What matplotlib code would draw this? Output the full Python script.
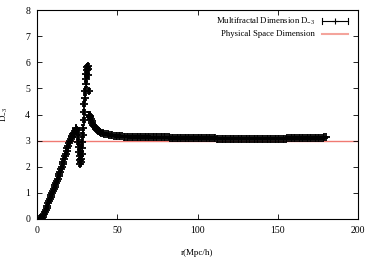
import matplotlib
matplotlib.use("Agg")
import matplotlib.pyplot as plt

plt.rcParams['font.family'] = ['Liberation Serif', 'DejaVu Serif']
plt.rcParams['mathtext.fontset'] = 'custom'
plt.rcParams['mathtext.rm'] = 'Liberation Serif'
plt.rcParams['mathtext.it'] = 'Liberation Serif'
plt.rcParams['mathtext.default'] = 'regular'

# ---- data ----
r_rise = [1.5, 2.0, 2.5, 3.0, 3.5, 4.0, 4.5, 5.0, 5.5, 6.0, 6.5, 7.0, 7.5, 8.0, 8.5,
          9.0, 9.5, 10.0, 10.5, 11.0, 11.5, 12.0, 12.5, 13.0, 13.5, 14.0, 14.5, 15.0,
          15.5, 16.0, 16.5, 17.0, 17.5, 18.0, 18.5, 19.0, 19.5, 20.0, 20.5, 21.0, 21.5,
          22.0, 22.5, 23.0, 23.5, 24.0, 24.5]
d_rise = [0.0, 0.0, 0.02, 0.05, 0.09, 0.14, 0.2, 0.27, 0.35, 0.43, 0.51, 0.6, 0.68, 0.77, 0.85,
          0.93, 1.0, 1.08, 1.15, 1.22, 1.3, 1.38, 1.46, 1.55, 1.63, 1.72, 1.81, 1.9,
          2.0, 2.1, 2.2, 2.3, 2.4, 2.5, 2.6, 2.7, 2.8, 2.9, 2.98, 3.06, 3.12,
          3.18, 3.24, 3.3, 3.37, 3.43, 3.47]

r_peak = [25.0, 25.25, 25.5, 25.75, 26.0, 26.25, 26.5, 26.75, 27.0, 27.25, 27.5, 27.75,
          28.0, 28.25, 28.5, 28.75, 29.0, 29.25, 29.5, 29.75, 30.0, 30.25, 30.5, 30.75,
          31.0, 31.25, 31.5, 31.75, 32.0, 32.25, 32.5, 32.75, 33.0]
d_peak = [3.4, 3.3, 3.15, 2.95, 2.75, 2.55, 2.4, 2.25, 2.12, 2.18, 2.3, 2.5,
          2.7, 2.95, 3.2, 3.5, 3.8, 4.1, 4.4, 4.65, 4.9, 5.15, 5.35, 5.55,
          5.7, 5.8, 5.87, 5.75, 5.5, 4.9, 4.0, 3.95, 3.9]

r_tail = [33.5, 34.0, 34.5, 35.0, 35.5, 36.0, 36.5, 37.0, 37.5, 38.0, 38.5, 39.0, 39.5, 40.0,
          41, 42, 43, 44, 45, 46, 47, 48, 49, 50,
          51, 52, 53, 54, 55, 56, 57, 58, 59, 60,
          61, 62, 63, 64, 65, 66, 67, 68, 69, 70,
          71, 72, 73, 74, 75, 76, 77, 78, 79, 80,
          81, 82, 83, 84, 85, 86, 87, 88, 89, 90,
          91, 92, 93, 94, 95, 96, 97, 98, 99, 100,
          101, 102, 103, 104, 105, 106, 107, 108, 109, 110,
          111, 112, 113, 114, 115, 116, 117, 118, 119, 120,
          121, 122, 123, 124, 125, 126, 127, 128, 129, 130,
          131, 132, 133, 134, 135, 136, 137, 138, 139, 140,
          141, 142, 143, 144, 145, 146, 147, 148, 149, 150,
          151, 152, 153, 154, 155, 156, 157, 158, 159, 160,
          161, 162, 163, 164, 165, 166, 167, 168, 169, 170,
          171, 172, 173, 174, 175, 176, 177, 178, 179, 180]
d_tail = [3.82, 3.74, 3.67, 3.61, 3.56, 3.52, 3.48, 3.44, 3.41, 3.38, 3.36, 3.34, 3.32, 3.3,
          3.28, 3.26, 3.25, 3.24, 3.22, 3.21, 3.2, 3.19, 3.18, 3.17,
          3.17, 3.16, 3.16, 3.15, 3.15, 3.15, 3.15, 3.14, 3.14, 3.14,
          3.14, 3.14, 3.13, 3.13, 3.13, 3.13, 3.13, 3.13, 3.13, 3.13,
          3.12, 3.12, 3.12, 3.12, 3.12, 3.12, 3.12, 3.12, 3.12, 3.12,
          3.12, 3.12, 3.11, 3.11, 3.11, 3.11, 3.11, 3.11, 3.11, 3.11,
          3.11, 3.10, 3.10, 3.10, 3.10, 3.10, 3.10, 3.10, 3.10, 3.10,
          3.10, 3.09, 3.09, 3.09, 3.09, 3.09, 3.09, 3.09, 3.09, 3.09,
          3.09, 3.08, 3.08, 3.08, 3.08, 3.08, 3.08, 3.08, 3.08, 3.08,
          3.08, 3.08, 3.08, 3.08, 3.08, 3.08, 3.08, 3.08, 3.08, 3.08,
          3.08, 3.08, 3.08, 3.08, 3.08, 3.08, 3.08, 3.08, 3.08, 3.08,
          3.08, 3.08, 3.08, 3.08, 3.08, 3.08, 3.08, 3.08, 3.08, 3.08,
          3.08, 3.08, 3.08, 3.08, 3.08, 3.09, 3.09, 3.09, 3.09, 3.09,
          3.09, 3.09, 3.09, 3.09, 3.09, 3.10, 3.10, 3.10, 3.10, 3.10,
          3.10, 3.10, 3.10, 3.11, 3.11, 3.11, 3.11, 3.11, 3.12, 3.12]

r_vals = r_rise + r_peak + r_tail
d_vals = d_rise + d_peak + d_tail
err_vals = [0.03] * len(r_rise) + [0.08] * len(r_peak) + [0.03] * len(r_tail)

physical_dim = 3.0
x_ticks = [0, 50, 100, 150, 200]
y_ticks = [0, 1, 2, 3, 4, 5, 6, 7, 8]

# ---- figure ----
fig = plt.figure(figsize=(3.74, 2.63), dpi=100)
ax = fig.add_axes([37/374, 1 - 219/263, 321/374, 209/263])

red = '#f07a72'
ax.axhline(physical_dim, color=red, lw=1.0, zorder=1)
ax.errorbar(r_vals, d_vals, yerr=err_vals, fmt='+', color='black', ms=5.5, mew=1.3,
            elinewidth=0.8, capsize=1.5, zorder=3)

ax.set_xlim(0, 200)
ax.set_ylim(0, 8)
ax.set_xticks(x_ticks)
ax.set_yticks(y_ticks)
ax.tick_params(direction='in', length=3.5, width=0.6, top=True, right=True,
               labelsize=7, pad=5)
for s in ax.spines.values():
    s.set_linewidth(0.8)

ax.set_xlabel('r(Mpc/h)', fontsize=6.5, labelpad=10)
ax.set_ylabel('D$_{-3}$', fontsize=6.5)
ax.yaxis.set_label_coords(-0.084, 0.5)

# gnuplot-style key (drawn in axes coords)
tx = (315 - 37) / 321
sx0 = (322 - 37) / 321
sx1 = (348 - 37) / 321
y1 = (219 - 21) / 209
y2 = (219 - 34) / 209
ax.text(tx, y1, 'Multifractal Dimension D$_{-3}$', transform=ax.transAxes,
        ha='right', va='center', fontsize=6.3)
ax.text(tx, y2, 'Physical Space Dimension', transform=ax.transAxes,
        ha='right', va='center', fontsize=6.3)
ax.plot([sx0, sx1], [y1, y1], transform=ax.transAxes, color='black', lw=0.8)
for xx in (sx0, sx1):
    ax.plot([xx, xx], [y1 - 0.012, y1 + 0.012], transform=ax.transAxes, color='black', lw=0.8)
ax.plot([(sx0 + sx1) / 2], [y1], '+', transform=ax.transAxes, color='black', ms=4, mew=0.8)
ax.plot([sx0, sx1], [y2, y2], transform=ax.transAxes, color='#f4a49c', lw=1.5)

fig.savefig('out.png', dpi=100)
